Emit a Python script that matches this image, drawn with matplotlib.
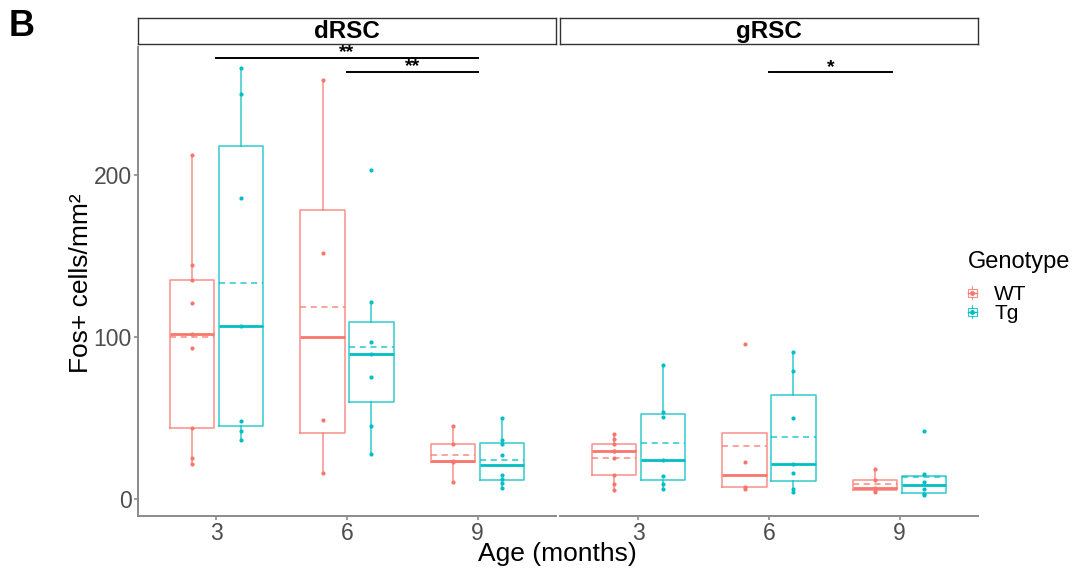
import numpy as np
import matplotlib
matplotlib.use("Agg")
from matplotlib import pyplot as plt
from matplotlib.legend_handler import HandlerBase
from matplotlib.patches import Rectangle
from matplotlib.lines import Line2D

plt.rcParams['font.family'] = ['Liberation Sans', 'DejaVu Sans']

### Fos+ counts per animal (cells/mm2) ###
regions = ['dRSC', 'gRSC']
ages = ['3', '6', '9']
genotypes = ['WT', 'Tg']

drsc_wt = [[212.4, 144.5, 135.5, 120.8, 101.6, 93.4, 43.9, 25.2, 21.4],
           [259.2, 151.8, 48.7, 15.7],
           [44.7, 33.8, 23.3, 22.6, 10.1]]
drsc_tg = [[266.2, 250.1, 186.0, 107.0, 47.8, 42.1, 36.3],
           [203.5, 121.6, 96.9, 89.3, 75.1, 44.7, 27.6],
           [49.9, 36.5, 33.8, 26.8, 14.6, 12.2, 9.5, 6.8]]
grsc_wt = [[40.2, 36.9, 34.0, 29.3, 29.3, 25.4, 14.8, 8.7, 5.2],
           [95.5, 22.5, 7.2, 5.8],
           [18.3, 11.5, 6.8, 5.1, 4.3]]
grsc_tg = [[82.7, 53.8, 50.3, 23.9, 13.8, 9.3, 6.2],
           [90.7, 79.0, 49.7, 21.2, 15.9, 6.2, 4.3],
           [41.8, 15.2, 10.3, 5.9, 2.7, 2.5]]

# significance brackets: (region, age from, age to, height, label)
sig_bars = [('dRSC', '3', '9', 273.0, '**'),
            ('dRSC', '6', '9', 264.3, '**'),
            ('gRSC', '6', '9', 263.8, '*')]

counts = {('dRSC', 'WT'): drsc_wt, ('dRSC', 'Tg'): drsc_tg,
          ('gRSC', 'WT'): grsc_wt, ('gRSC', 'Tg'): grsc_tg}
colors = {'WT': '#F8766D', 'Tg': '#00BFC4'}
dodge = {'WT': -0.1875, 'Tg': 0.1875}
box_w = 0.3375
axis_grey = '#8a8a8a'
tick_grey = '#4D4D4D'

W, H = 1073, 573


def fx(px):
    return px / W


def fy(py):
    return 1 - py / H


class BoxKey(HandlerBase):
    # small boxplot glyph with a point in the middle
    def create_artists(self, legend, orig_handle, xdescent, ydescent,
                       width, height, fontsize, trans):
        c = orig_handle.get_color()
        cx = width / 2 - xdescent
        cy = height / 2 - ydescent
        bw, bh, wl = 7.0, 5.5, 2.0
        rect = Rectangle((cx - bw / 2, cy - bh / 2), bw, bh, fill=False,
                         ec=c, lw=0.8, alpha=0.8, transform=trans)
        lo = Line2D([cx, cx], [cy - bh / 2 - wl, cy - bh / 2], color=c,
                    lw=0.8, alpha=0.8, transform=trans)
        hi = Line2D([cx, cx], [cy + bh / 2, cy + bh / 2 + wl], color=c,
                    lw=0.8, alpha=0.8, transform=trans)
        med = Line2D([cx - bw / 2, cx + bw / 2], [cy, cy], color=c, lw=1.0,
                     transform=trans)
        dot = Line2D([cx], [cy], marker='o', ms=2.5, color=c, lw=0,
                     transform=trans)
        return [rect, lo, hi, med, dot]


fig = plt.figure(figsize=(W / 100, H / 100), dpi=100)

panel_x = [(138, 556), (560, 978)]
top_px, bot_px = 47, 516
xpos = np.arange(1, len(ages) + 1)

for ri, region in enumerate(regions):
    x0, x1 = panel_x[ri]

    # facet strip (added first so the panel draws over it)
    sax = fig.add_axes([fx(x0), fy(44), (x1 - x0) / W, 26 / H])
    sax.set_xticks([])
    sax.set_yticks([])
    for s in sax.spines.values():
        s.set_color('#333333')
        s.set_linewidth(1.0)
    sax.text(0.5, 0.47, region, ha='center', va='center', fontsize=17.5,
             fontweight='bold', transform=sax.transAxes)

    ax = fig.add_axes([fx(x0), fy(bot_px), (x1 - x0) / W, (bot_px - top_px) / H])
    ax.patch.set_visible(False)

    for g in genotypes:
        c = colors[g]
        vals = counts[(region, g)]
        pos = xpos + dodge[g]
        ax.boxplot(vals, positions=pos, widths=box_w, showfliers=False,
                   showcaps=False, showmeans=True, meanline=True,
                   manage_ticks=False,
                   boxprops=dict(color=c, lw=1.1, alpha=0.8),
                   whiskerprops=dict(color=c, lw=1.1, alpha=0.8),
                   medianprops=dict(color=c, lw=2.0),
                   meanprops=dict(color=c, lw=1.1, ls=(0, (4, 3)), alpha=0.85))
        for p, v in zip(pos, vals):
            ax.scatter(np.full(len(v), p), v, s=9, color=c, zorder=3,
                       linewidths=0)

    for reg, a, b, yv, lab in sig_bars:
        if reg != region:
            continue
        xa = ages.index(a) + 1
        xb = ages.index(b) + 1
        if reg == 'gRSC':
            xb -= 0.06
        ax.plot([xa, xb], [yv, yv], color='black', lw=1.4, clip_on=False)
        ax.text((xa + xb) / 2, yv + 3.2, lab, ha='center', va='center',
                fontsize=14, fontweight='bold', clip_on=False)

    ax.set_xlim(0.4, 3.6)
    ax.set_ylim(-10.8, 279.5)
    ax.set_xticks(xpos, ages)
    ax.set_yticks([0, 100, 200])
    ax.tick_params(colors=axis_grey, labelcolor=tick_grey, labelsize=16.5,
                   length=3, width=1.2, pad=1.5)
    for s in ['top', 'right']:
        ax.spines[s].set_visible(False)
    ax.spines['bottom'].set_color(axis_grey)
    ax.spines['bottom'].set_linewidth(1.4)
    ax.spines['left'].set_color(axis_grey)
    ax.spines['left'].set_linewidth(1.4)
    if ri > 0:
        ax.spines['left'].set_visible(False)
        ax.tick_params(axis='y', left=False, labelleft=False)

fig.text(fx(81), fy(283), 'Fos+ cells/mm²', rotation=90, ha='center',
         va='center', fontsize=19)
fig.text(fx(557), fy(554), 'Age (months)', ha='center', va='center',
         fontsize=19)
fig.text(fx(9), fy(27), 'B', ha='left', va='center', fontsize=26,
         fontweight='bold')

# legend: title drawn on its own so the gap under it matches the keys
fig.text(fx(968), fy(262), 'Genotype', ha='left', va='center', fontsize=17)
handles = [Line2D([], [], color=colors[g]) for g in genotypes]
fig.legend(handles, genotypes, handler_map={Line2D: BoxKey()},
           loc='upper left', bbox_to_anchor=(fx(963), fy(285)),
           frameon=False, fontsize=15, handlelength=0.9, handletextpad=0.6,
           labelspacing=0.0, borderpad=0, borderaxespad=0)

fig.savefig('out.png', dpi=100)
